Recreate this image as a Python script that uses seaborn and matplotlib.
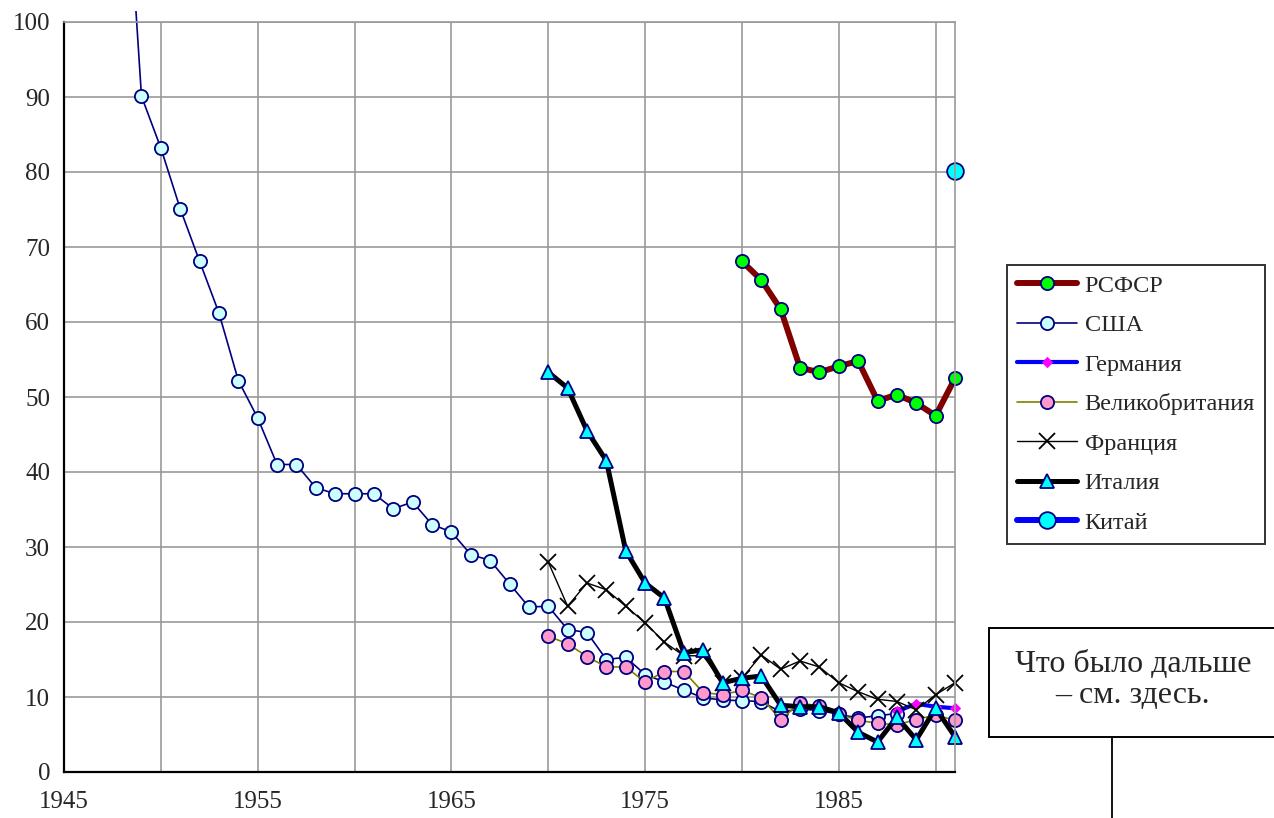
import matplotlib
matplotlib.use("Agg")
import matplotlib.pyplot as plt
import seaborn as sns
from matplotlib.patches import Rectangle
from matplotlib.lines import Line2D
from matplotlib.transforms import Bbox, TransformedBbox

# --------------------------------------------------
# Data
# --------------------------------------------------

years_rsfsr = list(range(1980, 1992))
rsfsr = [68.1, 65.6, 61.7, 53.9, 53.3, 54.1, 54.8, 49.5, 50.3, 49.2, 47.5, 52.5]

years_usa = list(range(1948, 1989))
usa = [130, 90.1, 83.2, 75.1, 68.1, 61.2, 52.2, 47.2, 41.0, 41.0,
       37.9, 37.1, 37.1, 37.1, 35.1, 36.0, 33.0, 32.0, 29.0, 28.2,
       25.1, 22.0, 22.1, 19.0, 18.6, 15.0, 15.3, 13.0, 12.0, 10.9,
       9.9, 9.6, 9.5, 9.4, 8.0, 8.4, 8.2, 7.7, 7.2, 7.5, 7.8]

years_germany = [1988, 1989, 1990, 1991]
germany = [8.1, 9.1, 8.7, 8.5]

years_7091 = list(range(1970, 1992))
britain = [18.1, 17.1, 15.4, 14.0, 14.0, 12.0, 13.4, 13.4, 10.6, 10.3, 10.9,
           9.9, 7.0, 9.2, 8.8, 7.7, 6.9, 6.5, 6.3, 7.0, 7.6, 6.9]
france = [28.0, 22.1, 25.2, 24.3, 22.1, 19.9, 17.3, 15.5, 15.5, 11.9, 12.5,
          15.6, 13.7, 14.8, 14.0, 11.9, 10.7, 9.7, 9.4, 8.3, 10.3, 11.9]
italy = [53.3, 51.2, 45.5, 41.5, 29.5, 25.2, 23.2, 15.9, 16.3, 11.9, 12.5,
         12.8, 8.9, 8.7, 8.7, 7.9, 5.3, 4.0, 7.3, 4.3, 8.5, 4.7]

years_china = [1991]
china = [80.1]

labels = ["РСФСР", "США", "Германия", "Великобритания", "Франция", "Италия", "Китай"]

# --------------------------------------------------
# Figure setup
# --------------------------------------------------

sns.set_theme(style="white")
plt.rcParams["font.family"] = ["Liberation Serif", "DejaVu Serif"]

fig = plt.figure(figsize=(12.74, 8.18), dpi=100)
ax = fig.add_axes([64 / 1274, 46 / 818, 891 / 1274, 750 / 818])

navy = "#000080"

# --------------------------------------------------
# Series
# --------------------------------------------------

sns.lineplot(x=years_rsfsr, y=rsfsr, ax=ax, color="#800000", linewidth=4.3,
             marker="o", markersize=9.5, markerfacecolor="#00ff00",
             markeredgecolor=navy, markeredgewidth=1.3, label=labels[0])

sns.lineplot(x=years_usa, y=usa, ax=ax, color=navy, linewidth=1.2,
             marker="o", markersize=9.5, markerfacecolor="#ccffff",
             markeredgecolor=navy, markeredgewidth=1.3, label=labels[1])

sns.lineplot(x=years_germany, y=germany, ax=ax, color="#0000ff", linewidth=3.0,
             marker="D", markersize=5, markerfacecolor="#ff00ff",
             markeredgecolor="#ff00ff", label=labels[2])

sns.lineplot(x=years_7091, y=britain, ax=ax, color="#808000", linewidth=1.2,
             marker="o", markersize=9.5, markerfacecolor="#ff99cc",
             markeredgecolor=navy, markeredgewidth=1.3, label=labels[3])

sns.lineplot(x=years_7091, y=france, ax=ax, color="black", linewidth=1.0,
             marker="x", markersize=11, markeredgecolor="black",
             markeredgewidth=1.3, label=labels[4])

sns.lineplot(x=years_7091, y=italy, ax=ax, color="black", linewidth=3.6,
             marker="^", markersize=10.5, markerfacecolor="#00ffff",
             markeredgecolor=navy, markeredgewidth=1.3, label=labels[5])

sns.lineplot(x=years_china, y=china, ax=ax, color="#0000ff", linewidth=4.3,
             marker="o", markersize=12, markerfacecolor="#00ffff",
             markeredgecolor=navy, markeredgewidth=1.3, label=labels[6])

# markers at the right edge are drawn whole, and the US line pokes
# slightly above the plot area, as in the original
clip = TransformedBbox(Bbox([[-0.03, -0.03], [1.03, 1.015]]), ax.transAxes)
for line in ax.lines:
    line.set_clip_box(clip)

# --------------------------------------------------
# Axes styling
# --------------------------------------------------

ax.set_xlim(1945, 1991)
ax.set_ylim(0, 100)

xt = list(range(1945, 1991, 5))
ax.set_xticks(xt)
ax.set_xticklabels([str(y) if (y - 1945) % 10 == 0 else "" for y in xt])
ax.set_yticks(range(0, 101, 10))

ax.grid(True, color="#999999", linewidth=1.2)
ax.set_axisbelow(True)
ax.tick_params(axis="both", direction="out", length=6, width=1.3,
               color="black", labelsize=18, pad=4)
ax.tick_params(axis="x", pad=8)

for side in ["left", "bottom"]:
    ax.spines[side].set_color("black")
    ax.spines[side].set_linewidth(1.6)
for side in ["top", "right"]:
    ax.spines[side].set_color("#999999")
    ax.spines[side].set_linewidth(1.2)

ax.set_xlabel("")
ax.set_ylabel("")

# --------------------------------------------------
# Legend outside the plot area
# --------------------------------------------------

handles, lbls = ax.get_legend_handles_labels()
ax.get_legend().remove()

leg = fig.legend(handles, lbls, loc="upper left",
                 bbox_to_anchor=(1007 / 1274, 1 - 265 / 818),
                 frameon=True, fancybox=False, edgecolor="black",
                 fontsize=17.5, handlelength=2.5, labelspacing=0.72,
                 borderpad=0.4, handletextpad=0.3, borderaxespad=0)
leg.get_frame().set_linewidth(1.4)

# --------------------------------------------------
# Note box with a pointer line
# --------------------------------------------------

fig.patches.append(Rectangle((989 / 1274, 1 - 737 / 818), 0.25, 109 / 818,
                             transform=fig.transFigure, facecolor="white",
                             edgecolor="black", linewidth=1.4))
fig.lines.append(Line2D([1112 / 1274, 1112 / 1274], [0, 1 - 737 / 818],
                        transform=fig.transFigure, color="black", linewidth=1.3))
fig.text(1133 / 1274, 1 - 680 / 818, "Что было дальше\n– см. здесь.",
         ha="center", va="center", fontsize=23, linespacing=1.12)

plt.savefig("out.png", dpi=100)
